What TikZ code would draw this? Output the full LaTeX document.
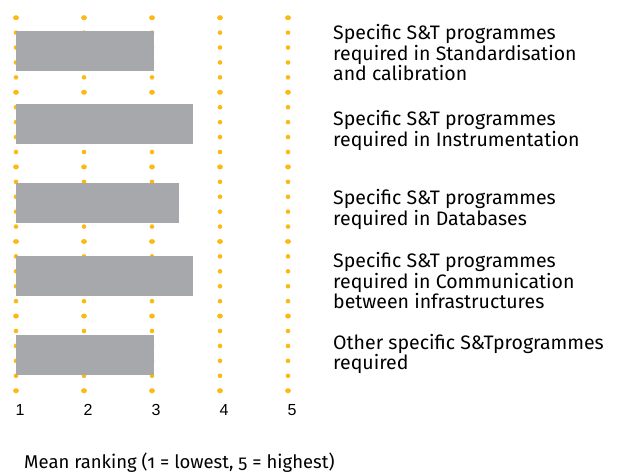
\documentclass[tikz,border=0pt]{standalone}
\usepackage{fontspec}
\setmainfont{Fira Sans}
\newfontfamily\tickfont{Liberation Sans}
\usetikzlibrary{positioning}
\definecolor{dotcol}{RGB}{253,185,19}
\definecolor{barcol}{RGB}{167,168,171}

\begin{document}
\begin{tikzpicture}[x=1pt, y=-1pt, font=\fontsize{19.5}{20.3}\selectfont,
    label/.style={anchor=base west, align=left, inner sep=0pt},
    tick/.style={font=\tickfont\fontsize{16}{18}\selectfont, inner sep=0pt}]

    \useasboundingbox (0,0) rectangle (625,474);

    % Dotted grid lines
    \foreach \c in {0,...,4} {
        \foreach \k in {0,...,25} {
            \pgfmathsetmacro{\xd}{16 + \c*68}
            \pgfmathsetmacro{\yd}{17.7 + \k*14.92}
            \pgfmathtruncatemacro{\m}{mod(\k,5)}
            \ifnum\m=0
                \fill[dotcol] (\xd,\yd) ellipse (2.9pt and 2.5pt);
            \else
                \fill[dotcol] (\xd,\yd) circle (2.3pt);
            \fi
        }
    }

    % Bars
    \foreach \v/\yc in {3.03/51, 3.6/124, 3.4/203, 3.6/276, 3.03/355} {
        \fill[barcol] (15.5, \yc-20) rectangle ({16+(\v-1)*68}, \yc+20);
    }

    % Labels (base = last line)
    \node[label] (lab1) at (333, 80.5)  {Specific S\&T programmes\\required in Standardisation\\and calibration};
    \node[label] (lab2) at (333, 146)   {Specific S\&T programmes\\required in Instrumentation};
    \node[label] (lab3) at (333, 225)   {Specific S\&T programmes\\required in Databases};
    \node[label] (lab4) at (333, 308.3) {Specific S\&T programmes\\required in Communication\\between infrastructures};
    \node[label] (lab5) at (333, 369.3) {Other specific S\&Tprogrammes\\required};

    % Axis numbers
    \foreach \n in {1,...,5} {
        \node[tick] (t\n) at ({20+(\n-1)*68}, 410) {\n};
    }

    % Caption
    \node[anchor=base west, inner sep=0pt, font=\fontsize{18.5}{20}\selectfont] (cap) at (24, 468.5)
        {\addfontfeatures{Numbers=OldStyle}Mean ranking (1 = lowest, 5 = highest)};

\end{tikzpicture}
\end{document}
